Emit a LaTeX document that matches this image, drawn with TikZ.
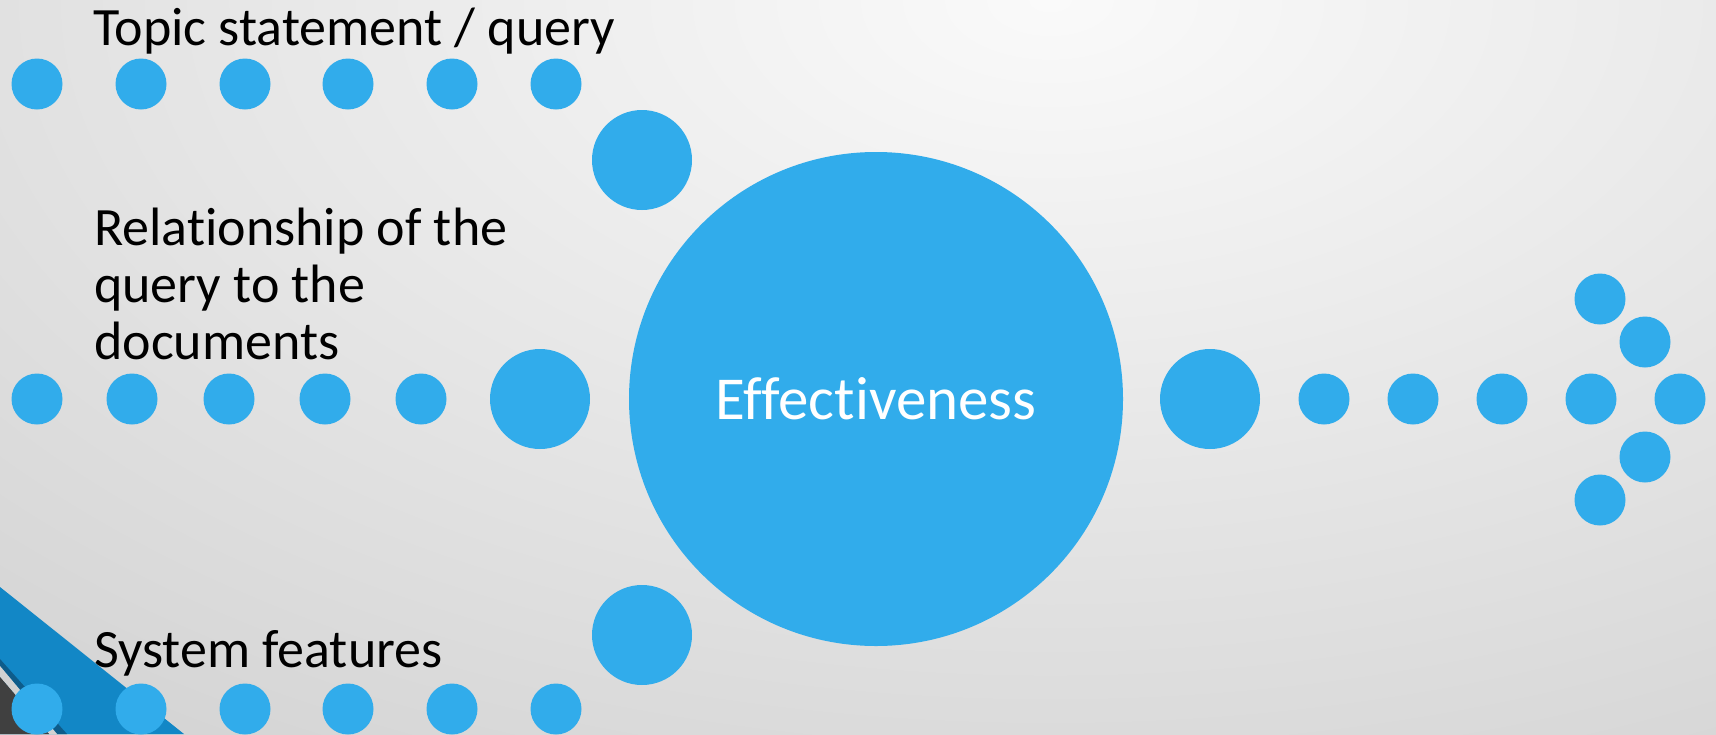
\documentclass[tikz,border=0pt]{standalone}
\usepackage{fontspec}
\setmainfont{Carlito}[Ligatures=NoCommon]
\definecolor{dotblue}{RGB}{49,172,235}
\definecolor{band}{RGB}{18,135,198}
\definecolor{banddark}{RGB}{14,92,138}
\definecolor{cornergrey}{RGB}{64,64,64}
\definecolor{gapgrey}{RGB}{210,210,210}
\definecolor{bgA}{RGB}{250,250,250}
\definecolor{bgB}{RGB}{212,212,212}
\pgfdeclareradialshading{bgshade}{\pgfpoint{0bp}{0bp}}{color(0bp)=(bgA); color(25bp)=(bgB); color(50bp)=(bgB)}
\begin{document}
\begin{tikzpicture}[x=1pt,y=-1pt,
  dotS/.style={circle, fill=dotblue, minimum size=51pt, inner sep=0pt},
  dotL/.style={circle, fill=dotblue, minimum size=100pt, inner sep=0pt},
  lbl/.style={font=\fontsize{54}{57}\selectfont, inner sep=0pt, anchor=base west, align=left, text=black}]
\useasboundingbox (0,0) rectangle (1716,734);
\begin{scope}
\clip (0,0) rectangle (1716,734);
\shade[shading=bgshade] (-550,-900) rectangle (2650,900);
% corner decoration
\fill[band] (0,587) -- (184,734) -- (0,734) -- cycle;
\fill[banddark] (0,659) -- (67,734) -- (57,734) -- (0,666) -- cycle;
\fill[gapgrey] (0,666) -- (57,734) -- (49,734) -- (0,677) -- cycle;
\fill[cornergrey] (0,677) -- (49,734) -- (0,734) -- cycle;
% top row
\foreach \x [count=\i] in {37,141,245,348,452,556}
  \node[dotS] (t\i) at (\x,84) {};
\node[dotL] (tb) at (642,160) {};
% middle row
\foreach \x [count=\i] in {37,132,229,325,421}
  \node[dotS] (m\i) at (\x,399) {};
\node[dotL] (mb) at (540,399) {};
% bottom row
\foreach \x [count=\i] in {37,141,245,348,452,556}
  \node[dotS] (b\i) at (\x,709) {};
\node[dotL] (bb) at (642,635) {};
% centre
\node[circle, fill=dotblue, minimum size=494pt, inner sep=0pt, text=white,
      font=\fontsize{61}{72}\selectfont] (eff) at (876,399) {Effectiveness};
% right arrow
\node[dotL] (rb) at (1210,399) {};
\foreach \x [count=\i] in {1324,1413,1502,1591,1680}
  \node[dotS] (r\i) at (\x,399) {};
\node[dotS] (a1) at (1600,299) {};
\node[dotS] (a2) at (1645,342) {};
\node[dotS] (a3) at (1645,457) {};
\node[dotS] (a4) at (1600,500) {};
% labels
\node[lbl] (topic) at (93,45) {Topic statement / query};
\node[lbl] (rel) at (94,359) {Relationship of the\\query to the\\documents};
\node[lbl] (sys) at (94,667) {System features};
\end{scope}
\end{tikzpicture}
\end{document}
